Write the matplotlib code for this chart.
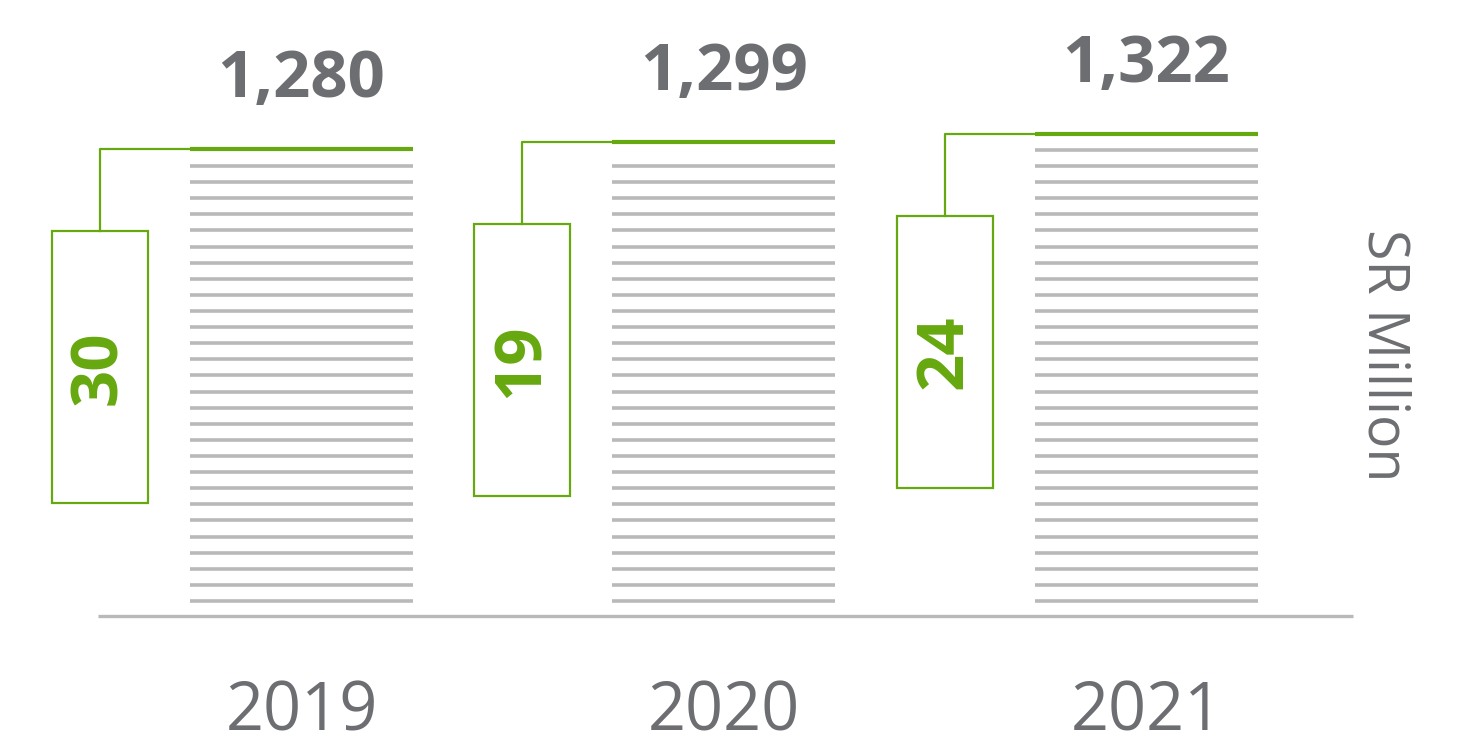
import numpy as np
import matplotlib.pyplot as plt

# data
years = ["2019", "2020", "2021"]
totals = [1280, 1299, 1322]
extras = [30, 19, 24]
unit_label = "SR Million"

green = "#66a80f"
stripe_gray = "#b9b9b9"
text_gray = "#6d6e71"

fig = plt.figure(figsize=(14.62, 7.44), dpi=100)
ax = fig.add_axes([0, 0, 1, 1])
ax.set_xlim(-0.7136, 2.747)
ax.set_ylim(-351, 1689.5)
ax.axis("off")

x = np.arange(len(years))
bar_w = 0.528
step = 44.2
first = 41

# baseline
ax.plot([-0.4817, 2.489], [0, 0], color=stripe_gray, lw=2.4, solid_capstyle="butt")

for xi, year, total, extra in zip(x, years, totals, extras):
    left, right = xi - bar_w / 2, xi + bar_w / 2
    # striped bar
    levels = np.arange(first, total - step / 2, step)
    ax.hlines(levels, left, right, color=stripe_gray, lw=2.6)
    ax.hlines(total, left, right, color=green, lw=3.0)

    # side box with connector
    box_top = total - 225
    box_h = 746
    box_left = left - 0.3266
    box_w = 0.2272
    bx = box_left + box_w / 2
    ax.add_patch(plt.Rectangle((box_left, box_top - box_h), box_w, box_h,
                               fill=False, edgecolor=green, lw=1.6))
    ax.plot([bx, bx, left], [box_top, total, total], color=green, lw=1.6)
    ax.text(bx, box_top - box_h / 2, str(extra), rotation=90, ha="center", va="center",
            fontsize=47, fontweight="bold", color=green, family="Open Sans")

    # labels
    ax.text(xi, total + 143, f"{total:,}", ha="center", va="baseline",
            fontsize=47, fontweight="bold", color=text_gray, family="Open Sans")
    ax.text(xi, -264, year, ha="center", va="center",
            fontsize=48, fontweight="normal", color=text_gray, family="Open Sans")

ax.text(2.56, 716, unit_label, rotation=270, ha="center", va="center",
        fontsize=40, fontweight="normal", color=text_gray, family="Open Sans")

fig.savefig("out.png", dpi=100)
